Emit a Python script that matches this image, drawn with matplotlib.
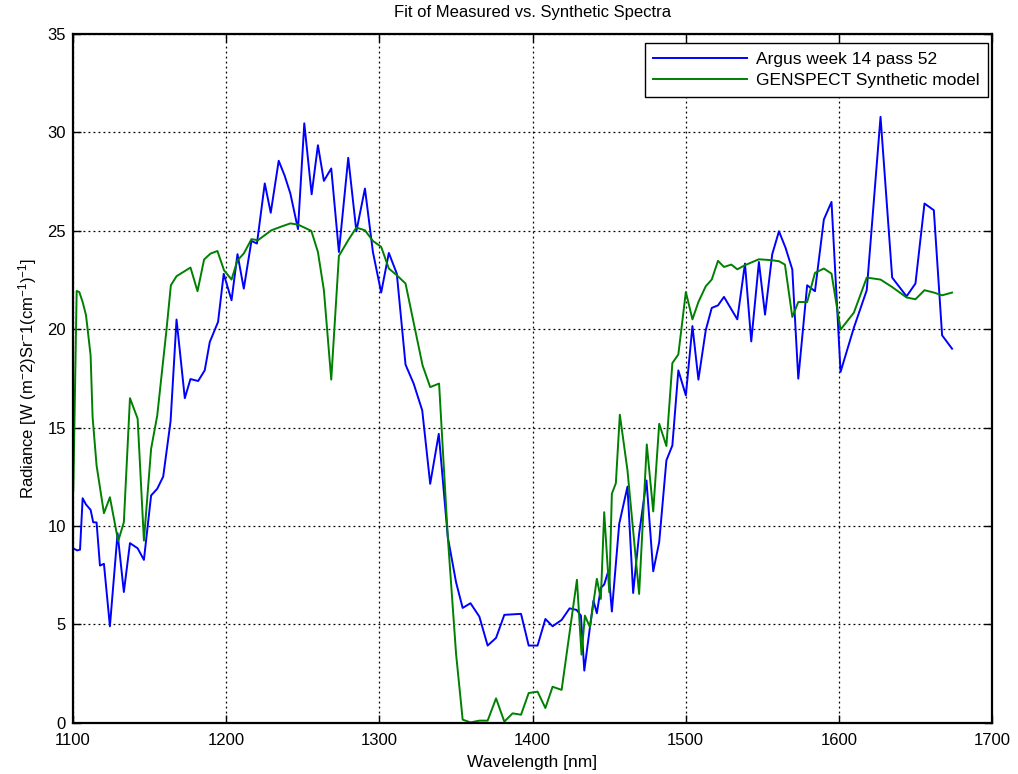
import matplotlib
matplotlib.use("Agg")
import matplotlib.pyplot as plt

# Argus measured spectrum (week 14, pass 52)
argus_wavelength = [
    1100.7, 1102.8, 1104.6, 1106.3, 1108.5, 1111.5, 1113.2, 1115.4, 1117.6, 1120.2,
    1124.1, 1129.1, 1133.2, 1137.2, 1142.2, 1146.3, 1151.0, 1155.0, 1158.9, 1163.7,
    1167.6, 1173.0, 1176.7, 1181.7, 1186.0, 1189.3, 1194.7, 1198.4, 1203.5, 1207.4,
    1211.5, 1216.5, 1220.1, 1225.2, 1229.1, 1234.3, 1238.2, 1241.9, 1246.9, 1251.0,
    1255.8, 1259.9, 1263.8, 1268.6, 1273.6, 1279.7, 1285.0, 1290.6, 1295.8, 1301.2,
    1306.2, 1311.4, 1317.1, 1322.4, 1328.0, 1333.2, 1338.8, 1344.7, 1350.1, 1354.4,
    1359.5, 1365.3, 1370.7, 1376.2, 1381.6, 1392.5, 1397.5, 1403.3, 1408.4, 1413.1,
    1419.0, 1424.2, 1428.8, 1431.6, 1433.8, 1437.5, 1439.8, 1442.0, 1444.6, 1446.8,
    1449.6, 1451.8, 1456.6, 1462.0, 1465.7, 1469.6, 1474.4, 1478.8, 1482.7, 1487.4,
    1491.3, 1495.2, 1500.1, 1504.4, 1508.3, 1513.1, 1517.0, 1521.1, 1525.0, 1533.7,
    1538.7, 1542.8, 1547.8, 1551.8, 1556.5, 1560.9, 1565.2, 1569.6, 1573.5, 1579.3,
    1584.4, 1590.2, 1595.2, 1601.1, 1609.8, 1618.2, 1627.2, 1634.8, 1644.2, 1650.0,
    1655.9, 1662.0, 1667.4, 1673.9,
]
argus_radiance = [
    8.84, 8.76, 8.80, 11.41, 11.09, 10.82, 10.19, 10.18, 7.99, 8.08,
    4.91, 9.63, 6.65, 9.13, 8.87, 8.28, 11.55, 11.89, 12.51, 15.31,
    20.48, 16.49, 17.46, 17.36, 17.90, 19.34, 20.36, 22.80, 21.46, 23.80,
    22.05, 24.47, 24.34, 27.39, 25.90, 28.54, 27.78, 26.88, 25.07, 30.44,
    26.84, 29.33, 27.52, 28.15, 23.91, 28.69, 24.96, 27.13, 23.91, 21.85,
    23.86, 22.81, 18.19, 17.23, 15.87, 12.14, 14.68, 9.43, 7.14, 5.84,
    6.08, 5.40, 3.93, 4.32, 5.49, 5.54, 3.93, 3.93, 5.28, 4.91,
    5.23, 5.82, 5.74, 5.45, 2.66, 4.86, 6.21, 5.57, 6.86, 7.03,
    7.74, 5.66, 10.11, 12.00, 6.60, 9.60, 12.31, 7.70, 9.18, 13.33,
    14.09, 17.90, 16.63, 20.15, 17.43, 19.94, 21.07, 21.20, 21.63, 20.49,
    23.32, 19.37, 23.40, 20.73, 23.80, 24.96, 24.12, 23.02, 17.48, 22.22,
    21.92, 25.56, 26.45, 17.82, 20.07, 21.97, 30.77, 22.61, 21.66, 22.31,
    26.37, 26.03, 19.68, 19.00,
]

# GENSPECT synthetic model spectrum
model_wavelength = [
    1100.2, 1102.4, 1104.1, 1106.3, 1108.5, 1111.5, 1112.8, 1115.4, 1120.2, 1124.1,
    1129.5, 1133.2, 1137.2, 1142.2, 1146.3, 1151.0, 1155.0, 1161.0, 1163.9, 1167.6,
    1176.7, 1181.3, 1185.6, 1189.8, 1194.3, 1198.6, 1203.5, 1207.4, 1211.5, 1216.5,
    1220.8, 1229.5, 1236.0, 1241.9, 1246.9, 1255.6, 1259.9, 1263.8, 1268.6, 1273.6,
    1279.7, 1285.0, 1290.6, 1295.8, 1301.2, 1306.2, 1311.4, 1317.1, 1322.3, 1328.2,
    1333.2, 1339.0, 1344.7, 1350.1, 1354.4, 1359.5, 1365.3, 1370.7, 1376.2, 1381.6,
    1387.0, 1392.5, 1397.5, 1403.3, 1408.4, 1413.1, 1419.0, 1429.0, 1432.0, 1434.2,
    1437.5, 1442.0, 1444.6, 1446.8, 1450.1, 1451.8, 1454.4, 1457.0, 1462.0, 1469.6,
    1474.6, 1478.8, 1482.7, 1487.4, 1491.3, 1495.2, 1500.1, 1504.4, 1508.3, 1513.1,
    1517.0, 1521.1, 1525.0, 1529.8, 1533.7, 1538.7, 1547.8, 1556.5, 1560.9, 1564.8,
    1569.6, 1573.5, 1579.3, 1584.4, 1590.2, 1595.2, 1601.1, 1609.8, 1618.2, 1627.2,
    1634.8, 1644.2, 1650.0, 1655.9, 1662.0, 1667.4, 1673.9,
]
model_radiance = [
    11.80, 21.93, 21.88, 21.37, 20.70, 18.66, 15.53, 13.07, 10.65, 11.46,
    9.23, 10.19, 16.49, 15.45, 9.26, 13.92, 15.61, 19.93, 22.22, 22.68,
    23.12, 21.92, 23.53, 23.83, 23.96, 22.98, 22.51, 23.49, 23.83, 24.56,
    24.51, 25.01, 25.20, 25.36, 25.30, 24.98, 23.91, 21.97, 17.43, 23.71,
    24.51, 25.15, 25.01, 24.47, 24.17, 23.07, 22.73, 22.31, 20.36, 18.16,
    17.05, 17.23, 9.43, 3.50, 0.17, 0.03, 0.12, 0.12, 1.25, 0.07,
    0.49, 0.42, 1.52, 1.59, 0.76, 1.84, 1.68, 7.27, 3.47, 5.45,
    4.86, 7.32, 6.30, 10.70, 6.64, 11.64, 12.17, 15.65, 12.82, 6.55,
    14.14, 10.74, 15.19, 14.06, 18.27, 18.71, 21.88, 20.49, 21.37, 22.17,
    22.51, 23.46, 23.15, 23.27, 23.03, 23.24, 23.54, 23.49, 23.44, 23.27,
    20.61, 21.37, 21.37, 22.85, 23.07, 22.81, 19.97, 20.83, 22.61, 22.51,
    22.13, 21.60, 21.51, 21.97, 21.85, 21.71, 21.85,
]

series_labels = ["Argus week 14 pass 52", "GENSPECT Synthetic model"]
x_ticks = [1100, 1200, 1300, 1400, 1500, 1600, 1700]
y_ticks = [0, 5, 10, 15, 20, 25, 30, 35]

plt.rcParams["font.family"] = ["Liberation Sans", "DejaVu Sans"]
plt.rcParams["mathtext.fontset"] = "custom"
plt.rcParams["mathtext.rm"] = "Liberation Sans"
plt.rcParams["mathtext.it"] = "Liberation Sans"
plt.rcParams["mathtext.default"] = "regular"

fig = plt.figure(figsize=(10.18, 7.74), dpi=100)
ax = fig.add_axes([0.0717, 0.0659, 0.9028, 0.8908])

ax.plot(argus_wavelength, argus_radiance, color=(0, 0, 1), lw=1.4,
        label=series_labels[0])
ax.plot(model_wavelength, model_radiance, color=(0, 0.5, 0), lw=1.4,
        label=series_labels[1])

ax.set_xlim(x_ticks[0], x_ticks[-1])
ax.set_ylim(y_ticks[0], y_ticks[-1])
ax.set_xticks(x_ticks)
ax.set_yticks(y_ticks)
ax.tick_params(direction="in", length=6, width=1, top=True, right=True,
               labelsize=12, colors="black")
ax.tick_params(axis="x", pad=7)
ax.tick_params(axis="y", pad=5)
ax.grid(True, color="black", linestyle=(0, (1.5, 2.5)), linewidth=0.9)
for spine in ax.spines.values():
    spine.set_linewidth(1.6)
    spine.set_color("black")

ax.set_title("Fit of Measured vs. Synthetic Spectra", fontsize=12, pad=12)
ax.set_xlabel("Wavelength [nm]", fontsize=12.5, labelpad=5)
ax.set_ylabel(r"Radiance [W (m$^{-}$2)Sr$^{-}$1(cm$^{-1}$)$^{-1}$]",
              fontsize=12, labelpad=6)

leg = ax.legend(loc="upper right", bbox_to_anchor=(0.9956, 0.986),
                borderaxespad=0, fancybox=False, framealpha=1,
                edgecolor="black", fontsize=12.5, handlelength=5.4,
                handletextpad=0.5, borderpad=0.5, labelspacing=0.35)
leg.get_frame().set_linewidth(1.0)

fig.savefig("out.png", dpi=100)
